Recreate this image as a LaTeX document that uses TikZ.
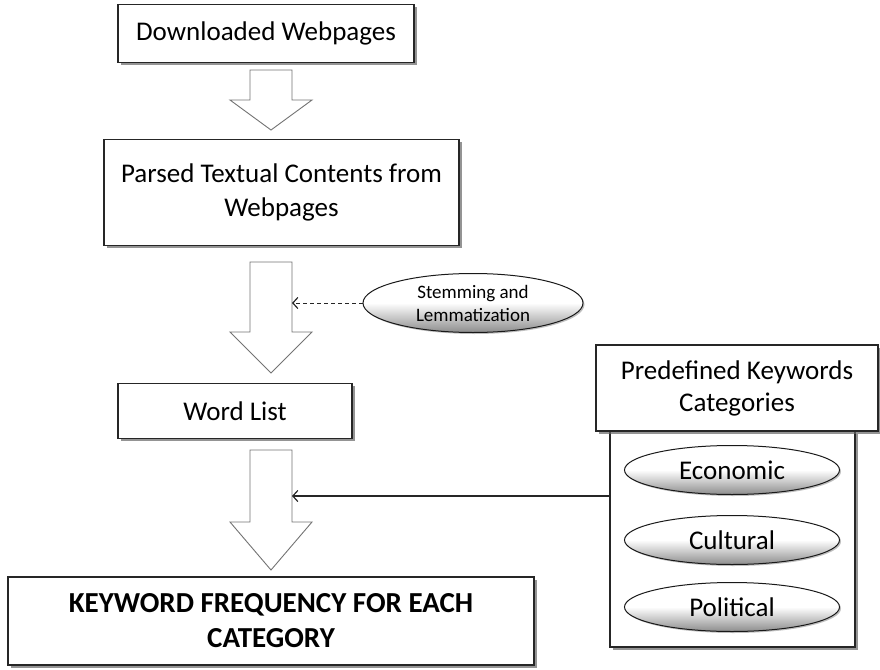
\documentclass[tikz,border=0pt]{standalone}
\usepackage{fontspec}
\setmainfont{Carlito}
\usetikzlibrary{shapes.geometric,shadows,arrows.meta}
\begin{document}
\begin{tikzpicture}[x=1pt,y=-1pt,
  box/.style={rectangle, draw=black!85, line width=1.3pt, fill=white, align=center,
    font=\fontsize{27}{34}\selectfont, inner sep=0pt,
    drop shadow={shadow xshift=2.5pt, shadow yshift=-2.5pt, fill=black!60, opacity=0.7}},
  oval/.style={ellipse, draw=black!90, line width=1pt, inner sep=0pt,
    top color=white, bottom color=black!45, middle color=white,
    drop shadow={shadow xshift=1.5pt, shadow yshift=-1.5pt, fill=black!50, opacity=0.5}},
  blockarrow/.style={draw=black!55, line width=0.9pt, fill=white, line join=miter},
  link/.style={line width=1.2pt, draw=black!85, -{Straight Barb[length=5pt,width=11pt,line width=1.2pt]}}
]
\useasboundingbox (0,0) rectangle (880,669);

% main column boxes
\node[box, minimum width=296pt, minimum height=58pt] (b1) at (266,33.5) {Downloaded Webpages};
\node[box, minimum width=355pt, minimum height=106pt] (b2) at (281.5,192.5) {Parsed Textual Contents from\\Webpages};
\node[box, minimum width=234pt, minimum height=55pt] (b3) at (235,411) {Word List};
\node[box, minimum width=526pt, minimum height=88pt, font=\fontsize{29}{35}\selectfont\bfseries] (b4) at (271,621) {KEYWORD FREQUENCY FOR EACH\\CATEGORY};

% block arrows
\foreach \t/\b/\p in {70/100/130, 262/332/373, 450/522/570}{
  \draw[blockarrow] (250,\t) -- (292,\t) -- (292,\b) -- (312,\b) -- (271,\p) -- (230,\b) -- (250,\b) -- cycle;
}

% stemming ellipse
\node[oval, minimum width=220pt, minimum height=59pt, align=center, font=\fontsize{19}{23}\selectfont] (stem) at (473,303) {Stemming and\\Lemmatization};
\coordinate (a2r) at (292,303);
\draw[link, dashed, dash pattern=on 4pt off 3pt, line width=1pt] (stem.west) -- (a2r);

% predefined categories
\node[rectangle, draw=black!85, line width=1.3pt, fill=white, minimum width=245pt, minimum height=216pt,
  drop shadow={shadow xshift=2.5pt, shadow yshift=-2.5pt, fill=black!60, opacity=0.7}] (inner) at (732.5,539) {};
\node[box, minimum width=282pt, minimum height=86pt, font=\fontsize{27}{32}\selectfont] (hdr) at (737,388) {Predefined Keywords\\Categories};
\node[oval, minimum width=215pt, minimum height=49pt, font=\fontsize{27}{32}\selectfont] (eco) at (732,470) {Economic};
\node[oval, minimum width=215pt, minimum height=49pt, font=\fontsize{27}{32}\selectfont] (cul) at (732,540) {Cultural};
\node[oval, minimum width=215pt, minimum height=49pt, font=\fontsize{27}{32}\selectfont] (pol) at (732,607) {Political};

\coordinate (a3r) at (292,496);
\draw[link] (inner.west |- a3r) -- (a3r);
\end{tikzpicture}
\end{document}
